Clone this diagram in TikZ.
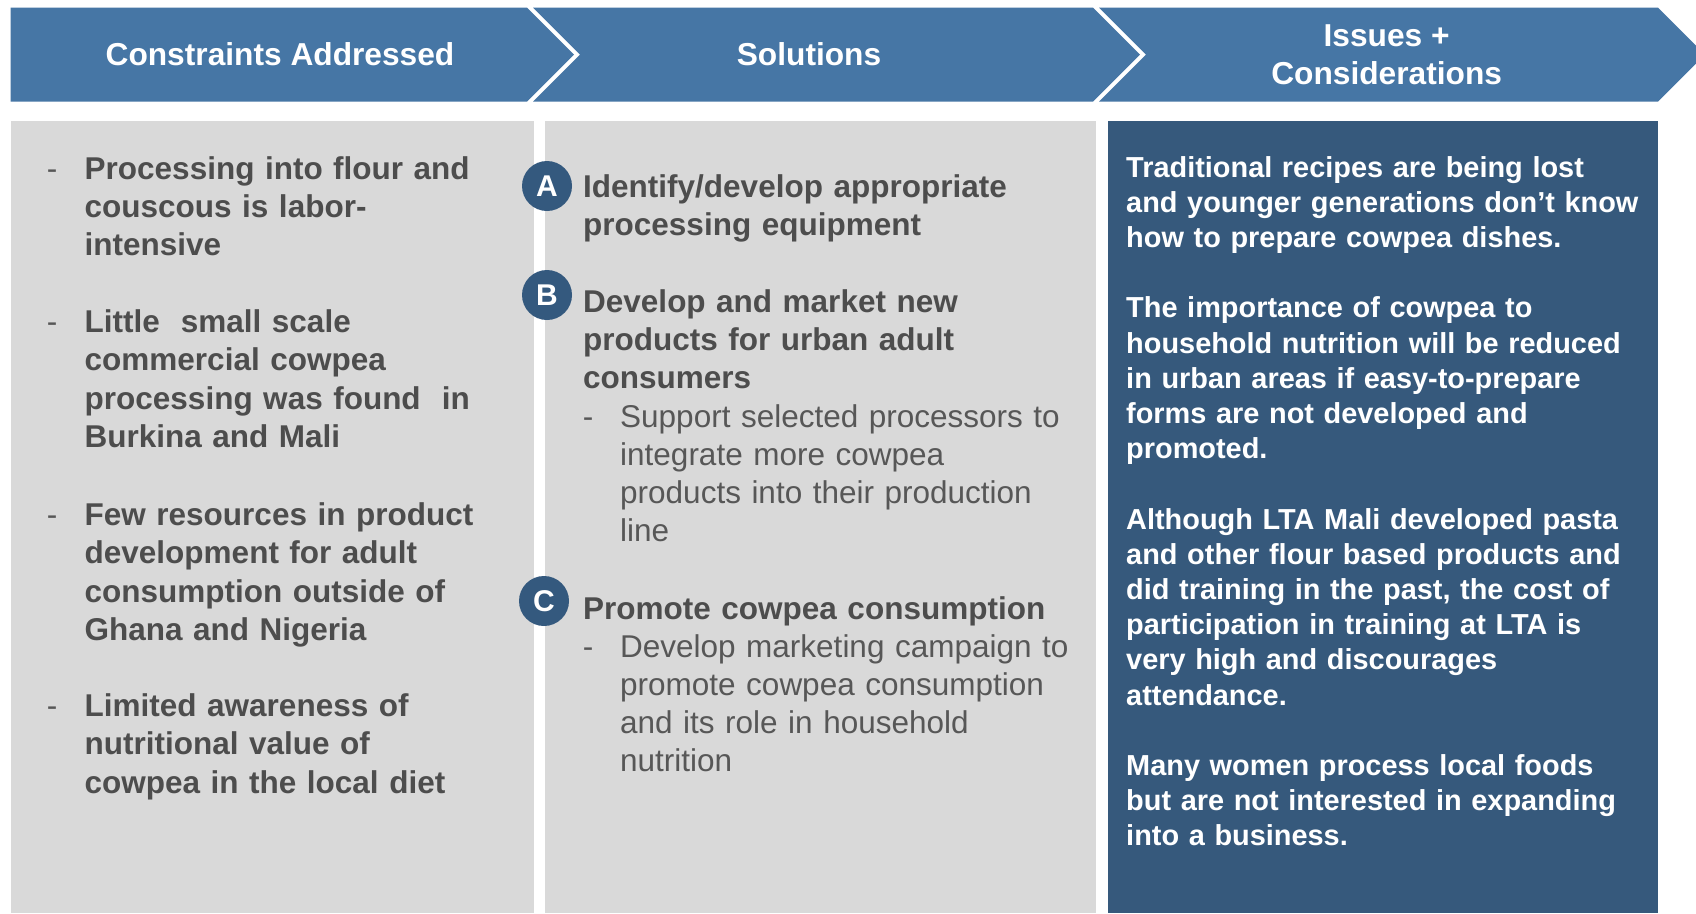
\documentclass[tikz,border=0pt]{standalone}
\usepackage{fontspec}
\setmainfont{Liberation Sans}
\usetikzlibrary{positioning}
\definecolor{hdrblue}{HTML}{4676A5}
\definecolor{panelgray}{HTML}{D9D9D9}
\definecolor{darkpanel}{HTML}{36597C}
\definecolor{txtgray}{HTML}{4D4D4D}
\definecolor{subgray}{HTML}{575757}
\definecolor{badgeblue}{HTML}{34597E}
\tikzset{
  hdrtxt/.style={text=white, font=\bfseries\fontsize{31.7}{38}\selectfont, align=center, inner sep=0},
  maintxt/.style={text=txtgray, font=\bfseries\fontsize{31.5}{38.4}\selectfont, text width=470, align=left, anchor=base west, inner sep=0},
  subtxt/.style={text=subgray, font=\fontsize{31.5}{38.2}\selectfont, text width=470, align=left, anchor=base west, inner sep=0},
  dashmark/.style={text=subgray, font=\fontsize{31.5}{38}\selectfont, anchor=base, inner sep=0},
  badge/.style={circle, fill=badgeblue, minimum size=50, inner sep=0, text=white, font=\bfseries\fontsize{30}{30}\selectfont},
  isstxt/.style={text=white, font=\bfseries\fontsize{28.9}{35.2}\selectfont, text width=540, align=left, anchor=base west, inner sep=0}
}
\begin{document}
\begin{tikzpicture}[x=1pt,y=-1pt]
  \useasboundingbox[fill=white] (0,0) rectangle (1696,913);
  % header chevrons
  \fill[hdrblue] (10.5,7.6) -- (527,7.6) -- (574,54.6) -- (527,101.7) -- (10.5,101.7) -- cycle;
  \fill[hdrblue] (533,7.6) -- (1093,7.6) -- (1140,54.6) -- (1093,101.7) -- (533,101.7) -- (580,54.6) -- cycle;
  \fill[hdrblue] (1099,7.6) -- (1658,7.6) -- (1705,54.6) -- (1658,101.7) -- (1099,101.7) -- (1146,54.6) -- cycle;
  % panels
  \fill[panelgray] (10.5,121) rectangle (534,913);
  \fill[panelgray] (545,121) rectangle (1096,913);
  \fill[darkpanel] (1108,121) rectangle (1658,913);

  \node[hdrtxt] (hdrcons) at (280,54.6) {Constraints Addressed};
  \node[hdrtxt] (hdrsol) at (809,54.6) {Solutions};
  \node[hdrtxt] (hdriss) at (1386.6,54.6) {Issues +\\Considerations};

  % constraints
  \node[dashmark] (d1) at (52,179) {-};
  \node[maintxt] (cons1) at (84.5,179) {Processing into flour and\\couscous is labor-\\intensive};
  \node[dashmark] (d2) at (52,332.5) {-};
  \node[maintxt] (cons2) at (84.5,332.5) {Little\ \ small scale\\commercial cowpea\\processing was found\ \ in\\Burkina and Mali};
  \node[dashmark] (d3) at (52,525.5) {-};
  \node[maintxt] (cons3) at (84.5,525.5) {Few resources in product\\development for adult\\consumption outside of\\Ghana and Nigeria};
  \node[dashmark] (d4) at (52,716.5) {-};
  \node[maintxt] (cons4) at (84.5,716.5) {Limited awareness of\\nutritional value of\\cowpea in the local diet};

  % solutions
  \node[badge] (bA) at (547,186) {A};
  \node[maintxt] (solA) at (583,197.5) {Identify/develop appropriate\\processing equipment};
  \node[badge] (bB) at (547,295) {B};
  \node[maintxt] (solB) at (583,312) {Develop and market new\\products for urban adult\\consumers};
  \node[dashmark] (sdB) at (588,427) {-};
  \node[subtxt] (subB) at (620,427) {Support selected processors to\\integrate more cowpea\\products into their production\\line};
  \node[badge] (bC) at (544,601) {C};
  \node[maintxt] (solC) at (583,619) {Promote cowpea consumption};
  \node[dashmark] (sdC) at (588,657) {-};
  \node[subtxt] (subC) at (620,657) {Develop marketing campaign to\\promote cowpea consumption\\and its role in household\\nutrition};

  % issues
  \node[isstxt] (iss) at (1126,177) {Traditional recipes are being lost\\and younger generations don’t know\\how to prepare cowpea dishes.\\[35.2pt]
    The importance of cowpea to\\household nutrition will be reduced\\in urban areas if easy-to-prepare\\forms are not developed and\\promoted.\\[35.2pt]
    Although LTA Mali developed pasta\\and other flour based products and\\did training in the past, the cost of\\participation in training at LTA is\\very high and discourages\\attendance.\\[35.2pt]
    Many women process local foods\\but are not interested in expanding\\into a business.};
\end{tikzpicture}
\end{document}
